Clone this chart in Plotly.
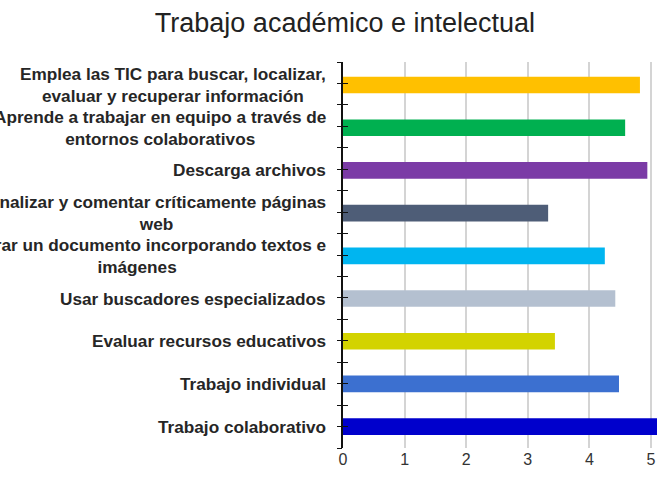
import plotly.graph_objects as go

categories = [
    "Emplea las TIC para buscar, localizar,<br>evaluar y recuperar información",
    "Aprende a trabajar en equipo a través de<br>entornos colaborativos",
    "Descarga archivos",
    "Analizar y comentar críticamente páginas<br>web",
    "Elaborar un documento incorporando textos e<br>imágenes",
    "Usar buscadores especializados",
    "Evaluar recursos educativos",
    "Trabajo individual",
    "Trabajo colaborativo",
]
values = [4.82, 4.58, 4.94, 3.33, 4.25, 4.42, 3.44, 4.48, 5.12]
colors = ["#FFC000", "#00B050", "#7B3BA6", "#4E5D77", "#00B5F0",
          "#B4C0D0", "#D3D300", "#3C70D0", "#0000CC"]
x_ticks = [0, 1, 2, 3, 4, 5]

fig = go.Figure(go.Bar(
    x=values,
    y=categories,
    orientation='h',
    width=0.39,
    marker=dict(color=colors, line=dict(width=0)),
))

# crossing tick marks on the category axis
fig.add_trace(go.Scatter(x=[], y=[], yaxis='y2', showlegend=False))
fig.add_trace(go.Scatter(x=[], y=[], yaxis='y3', showlegend=False))

for cat in categories:
    fig.add_annotation(
        x=0, xref='paper', y=cat, yref='y',
        text=cat, showarrow=False, xanchor='right', align='center',
        xshift=-15,
        font=dict(family="Liberation Sans, Arial", size=17.2, color="#262626", weight='bold'),
    )

tick_axis = dict(range=[-0.5, 8.5], tick0=-0.5, dtick=0.5, overlaying='y', anchor='x',
                 showticklabels=False, showgrid=False, zeroline=False, showline=False,
                 automargin=False, ticklen=5, tickwidth=1.2, tickcolor='#111111')

fig.update_layout(
    title=dict(text="Trabajo académico e intelectual", x=0.525, xanchor='center',
               y=0.952, yanchor='middle',
               font=dict(family="Liberation Sans, Arial", size=27, color="#222222")),
    width=657,
    height=478,
    margin=dict(l=343, r=0, t=62, b=30, autoexpand=False),
    paper_bgcolor="white",
    plot_bgcolor="white",
    showlegend=False,
    xaxis=dict(range=[0, 5.097], tickvals=x_ticks, showgrid=True, gridcolor='#d4d4d4',
               gridwidth=1.5, zeroline=False, showline=False, ticks='', automargin=False,
               tickfont=dict(family="Liberation Sans, Arial", size=16, color="#333333")),
    yaxis=dict(type='category', categoryarray=categories, autorange='reversed',
               showticklabels=False, ticks='', showgrid=False, showline=True,
               automargin=False, linecolor='#111111', linewidth=1.5),
    yaxis2=dict(tick_axis, ticks='outside'),
    yaxis3=dict(tick_axis, ticks='inside'),
)

# drop the default page margin so the figure fills the window
fig.write_html("out.html", config={'displayModeBar': False},
               post_script="document.body.style.margin='0';document.body.style.overflow='hidden';")
